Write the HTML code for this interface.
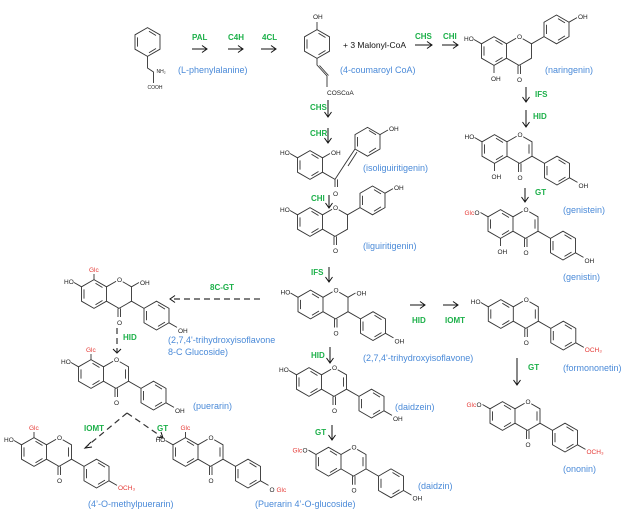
<!DOCTYPE html>
<html><head><meta charset="utf-8"><style>
html,body{margin:0;padding:0;background:#fff}
svg{display:block}
.b{fill:none;stroke:#333;stroke-width:0.9}
.t{font-family:"Liberation Sans",sans-serif;font-size:6.5px;fill:#222}
.o{font-family:"Liberation Sans",sans-serif;font-size:6.5px;fill:#222;paint-order:stroke;stroke:#fff;stroke-width:3px}
.r{font-family:"Liberation Sans",sans-serif;font-size:6.5px;fill:#e53935}
.e{font-family:"Liberation Sans",sans-serif;font-size:8px;font-weight:bold;fill:#1db04a}
.n{font-family:"Liberation Sans",sans-serif;font-size:9px;fill:#4a8ad8}
.k{font-family:"Liberation Sans",sans-serif;font-size:8.5px;fill:#111}
.a{fill:none;stroke:#111;stroke-width:1}
.d{fill:none;stroke:#333;stroke-width:1.2;stroke-dasharray:6,4}
</style></head><body>
<svg width="632" height="514" viewBox="0 0 632 514" xmlns="http://www.w3.org/2000/svg">
<defs>
<g id="A" class="b">
<polygon points="0,-14.4 12.5,-7.2 12.5,7.2 0,14.4 -12.5,7.2 -12.5,-7.2"/>
<path d="M-10,-4.6V4.6M1.5,-10.8L8.5,-6.5M8.5,6.5L1.5,10.8"/>
</g>
<g id="C" class="b">
<path d="M12.5,-7.2L25,-14.4L37.5,-7.2L37.5,7.2L25,14.4L12.5,7.2M24,14.4V23M26.5,14.4V23"/>
</g>
<g id="Cd" class="b"><path d="M34.5,-4.6V4.6"/></g>
<g id="Bi" class="b">
<path d="M37.5,7.2L50,14.4"/>
<polygon points="62.5,7.2 75,14.4 75,28.8 62.5,36 50,28.8 50,14.4"/>
<path d="M52.5,17V26.2M64,10.8L71,15.1M71,28.1L64,32.4M75,28.8L83,33.4"/>
</g>
<g id="Bf" class="b">
<path d="M37.5,-7.2L50,-14.4"/>
<polygon points="62.5,-36 75,-28.8 75,-14.4 62.5,-7.2 50,-14.4 50,-28.8"/>
<path d="M52.5,-26.2V-17M64,-32.4L71,-28.1M71,-15.1L64,-10.8M75,-28.8L83,-33.4"/>
</g>
<g id="H7" class="b"><path d="M-12.5,-7.2L-20,-11.5"/></g>
<g id="O5" class="b"><path d="M0,14.4V22"/></g>
<g id="G8" class="b"><path d="M0,-14.4V-20"/></g>
<g id="O2" class="b"><path d="M37.5,-7.2L45,-11.5"/></g>
</defs>

<!-- phenylalanine -->
<g transform="translate(147.5,42)">
<use href="#A"/>
<path class="b" d="M0,14.4V26L6,30L6,41"/>
<text class="t" x="9" y="31" style="font-size:5px">NH₂</text>
<text class="t" x="0" y="47" style="font-size:5px">COOH</text>
</g>
<!-- coumaroyl CoA -->
<g transform="translate(317,44)">
<use href="#A"/>
<path class="b" d="M0,-14.4V-22M0,14.4V21L10,32L10,43M2.5,21.5L11.5,31.5"/>
<text class="t" x="-4" y="-25">OH</text>
<text class="t" x="10" y="51">COSCoA</text>
</g>
<!-- isoliquiritigenin -->
<g transform="translate(310,165)">
<use href="#A"/><use href="#H7"/>
<path class="b" d="M12.5,-7.2L20,-11.5M12.5,7.2L25,14.4V22M27.5,14.4V22M25,14.4L35,-1L45,-16M38,1L47,-13"/>
<polygon class="b" points="57.5,-37.6 70,-30.4 70,-16 57.5,-8.8 45,-16 45,-30.4"/>
<path class="b" d="M47.5,-28V-18.5M59,-34.5L66,-30.3M66,-17L59,-12.5M70,-30.4L78,-35"/>
<text class="t" x="-30" y="-10">HO</text><text class="t" x="21" y="-10">OH</text>
<text class="o" x="23" y="31">O</text><text class="t" x="79" y="-34">OH</text>
</g>
<!-- liquiritigenin -->
<g transform="translate(310,222)">
<use href="#A"/><use href="#C"/><use href="#Bf"/><use href="#H7"/>
<text class="o" x="23" y="-12">O</text><text class="o" x="23" y="31">O</text>
<text class="t" x="-30" y="-10">HO</text><text class="t" x="84" y="-32">OH</text>
</g>
<!-- naringenin -->
<g transform="translate(494,51)">
<use href="#A"/><use href="#C"/><use href="#Bf"/><use href="#H7"/><use href="#O5"/>
<text class="o" x="23" y="-12">O</text><text class="o" x="23" y="31">O</text>
<text class="t" x="-30" y="-10">HO</text><text class="t" x="84" y="-32">OH</text><text class="t" x="-3" y="30">OH</text>
</g>
<!-- trihydroxyisoflavanone -->
<g transform="translate(310.5,304.5)">
<use href="#A"/><use href="#C"/><use href="#Bi"/><use href="#H7"/><use href="#O2"/>
<text class="o" x="23" y="-12">O</text><text class="o" x="23" y="31">O</text>
<text class="t" x="-30" y="-10">HO</text><text class="t" x="46" y="-9">OH</text><text class="t" x="84" y="39">OH</text>
</g>
<!-- daidzein -->
<g transform="translate(309,382)">
<use href="#A"/><use href="#C"/><use href="#Cd"/><use href="#Bi"/><use href="#H7"/>
<text class="o" x="23" y="-12">O</text><text class="o" x="23" y="31">O</text>
<text class="t" x="-30" y="-10">HO</text><text class="t" x="84" y="39">OH</text>
</g>
<!-- daidzin -->
<g transform="translate(328.5,461.7)">
<use href="#A"/><use href="#C"/><use href="#Cd"/><use href="#Bi"/><use href="#H7"/>
<text class="o" x="23" y="-12">O</text><text class="o" x="23" y="31">O</text>
<text class="r" x="-36" y="-9">Glc</text><text class="t" x="-26" y="-9">O</text><text class="t" x="84" y="39">OH</text>
</g>
<!-- genistein -->
<g transform="translate(494.5,149)">
<use href="#A"/><use href="#C"/><use href="#Cd"/><use href="#Bi"/><use href="#H7"/><use href="#O5"/>
<text class="o" x="23" y="-12">O</text><text class="o" x="23" y="31">O</text>
<text class="t" x="-30" y="-10">HO</text><text class="t" x="84" y="39">OH</text><text class="t" x="-3" y="30">OH</text>
</g>
<!-- genistin -->
<g transform="translate(500.5,224)">
<use href="#A"/><use href="#C"/><use href="#Cd"/><use href="#Bi"/><use href="#H7"/><use href="#O5"/>
<text class="o" x="23" y="-12">O</text><text class="o" x="23" y="31">O</text>
<text class="r" x="-36" y="-9">Glc</text><text class="t" x="-26" y="-9">O</text><text class="t" x="84" y="39">OH</text><text class="t" x="-3" y="30">OH</text>
</g>
<!-- formononetin -->
<g transform="translate(500.8,314)">
<use href="#A"/><use href="#C"/><use href="#Cd"/><use href="#Bi"/><use href="#H7"/>
<text class="o" x="23" y="-12">O</text><text class="o" x="23" y="31">O</text>
<text class="t" x="-30" y="-10">HO</text><text class="r" x="84" y="38">OCH₃</text>
</g>
<!-- ononin -->
<g transform="translate(502.5,416)">
<use href="#A"/><use href="#C"/><use href="#Cd"/><use href="#Bi"/><use href="#H7"/>
<text class="o" x="23" y="-12">O</text><text class="o" x="23" y="31">O</text>
<text class="r" x="-36" y="-9">Glc</text><text class="t" x="-26" y="-9">O</text><text class="r" x="84" y="38">OCH₃</text>
</g>
<!-- 8C glucoside isoflavanone -->
<g transform="translate(94,294)">
<use href="#A"/><use href="#C"/><use href="#Bi"/><use href="#H7"/><use href="#O2"/><use href="#G8"/>
<text class="o" x="23" y="-12">O</text><text class="o" x="23" y="31">O</text>
<text class="t" x="-30" y="-10">HO</text><text class="t" x="46" y="-9">OH</text><text class="t" x="84" y="39">OH</text>
<text class="r" x="-5" y="-22">Glc</text>
</g>
<!-- puerarin -->
<g transform="translate(91,374)">
<use href="#A"/><use href="#C"/><use href="#Cd"/><use href="#Bi"/><use href="#H7"/><use href="#G8"/>
<text class="o" x="23" y="-12">O</text><text class="o" x="23" y="31">O</text>
<text class="t" x="-30" y="-10">HO</text><text class="t" x="84" y="39">OH</text><text class="r" x="-5" y="-22">Glc</text>
</g>
<!-- 4'-O-methylpuerarin -->
<g transform="translate(34,452)">
<use href="#A"/><use href="#C"/><use href="#Cd"/><use href="#Bi"/><use href="#H7"/><use href="#G8"/>
<text class="o" x="23" y="-12">O</text><text class="o" x="23" y="31">O</text>
<text class="t" x="-30" y="-10">HO</text><text class="r" x="84" y="38">OCH₃</text><text class="r" x="-5" y="-22">Glc</text>
</g>
<!-- puerarin 4'-O-glucoside -->
<g transform="translate(185.5,452)">
<use href="#A"/><use href="#C"/><use href="#Cd"/><use href="#Bi"/><use href="#H7"/><use href="#G8"/>
<text class="o" x="23" y="-12">O</text><text class="o" x="23" y="31">O</text>
<text class="t" x="-30" y="-10">HO</text><text class="t" x="84" y="40">O</text><text class="r" x="91" y="40">Glc</text><text class="r" x="-5" y="-22">Glc</text>
</g>

<!-- arrows -->
<g class="a">
<path d="M192,49H207M202,45.5L207,49L202,52.5"/>
<path d="M228,49H243M238,45.5L243,49L238,52.5"/>
<path d="M261,49H276M271,45.5L276,49L271,52.5"/>
<path d="M415,45H432M427,41.5L432,45L427,48.5"/>
<path d="M442,45H458M453,41.5L458,45L453,48.5"/>
<path d="M526,87V102M522.5,97L526,102L529.5,97"/>
<path d="M526,110V127M522.5,122L526,127L529.5,122"/>
<path d="M328,100V117M324.5,112L328,117L331.5,112"/>
<path d="M328,128V143M324.5,138L328,143L331.5,138"/>
<path d="M329,195V208M325.5,203L329,208L332.5,203"/>
<path d="M329,267V282M325.5,277L329,282L332.5,277"/>
<path d="M330,347V363M326.5,358L330,363L333.5,358"/>
<path d="M525,188V202M521.5,197L525,202L528.5,197"/>
<path d="M410,305H425M420,301.5L425,305L420,308.5"/>
<path d="M443,305H458M453,301.5L458,305L453,308.5"/>
<path d="M517,358V385M513.5,380L517,385L520.5,380"/>
<path d="M332,425V440M328.5,435L332,440L335.5,435"/>
<path d="M175,295.5L170,299L175,302.5M113,349L117,353L121,349M91,442L85,448L92,447M157,437L163,438L161,432"/>
</g>
<path class="d" d="M260,299H171"/>
<path class="d" d="M117,328V352"/>
<path class="d" d="M127,413L86,447M127,413L162,437"/>

<!-- enzyme labels -->
<text class="e" x="192" y="40">PAL</text>
<text class="e" x="228" y="40">C4H</text>
<text class="e" x="262" y="40">4CL</text>
<text class="e" x="415" y="39">CHS</text>
<text class="e" x="443" y="39">CHI</text>
<text class="e" x="535" y="97">IFS</text>
<text class="e" x="533" y="119">HID</text>
<text class="e" x="310" y="110">CHS</text>
<text class="e" x="310" y="136">CHR</text>
<text class="e" x="311" y="201">CHI</text>
<text class="e" x="311" y="275">IFS</text>
<text class="e" x="311" y="358">HID</text>
<text class="e" x="535" y="195">GT</text>
<text class="e" x="210" y="290">8C-GT</text>
<text class="e" x="412" y="323">HID</text>
<text class="e" x="445" y="323">IOMT</text>
<text class="e" x="528" y="370">GT</text>
<text class="e" x="315" y="435">GT</text>
<text class="e" x="123" y="340">HID</text>
<text class="e" x="84" y="431">IOMT</text>
<text class="e" x="157" y="431">GT</text>

<!-- names -->
<text class="k" x="343" y="48">+ 3 Malonyl-CoA</text>
<text class="n" x="178" y="73">(L-phenylalanine)</text>
<text class="n" x="340" y="73">(4-coumaroyl CoA)</text>
<text class="n" x="545" y="73">(naringenin)</text>
<text class="n" x="363" y="171">(isoliguiritigenin)</text>
<text class="n" x="563" y="213">(genistein)</text>
<text class="n" x="363" y="249">(liguiritigenin)</text>
<text class="n" x="563" y="280">(genistin)</text>
<text class="n" x="168" y="343">(2,7,4'-trihydroxyisoflavone</text>
<text class="n" x="168" y="355">8-C Glucoside)</text>
<text class="n" x="363" y="361">(2,7,4'-trihydroxyisoflavone)</text>
<text class="n" x="563" y="371">(formononetin)</text>
<text class="n" x="193" y="409">(puerarin)</text>
<text class="n" x="395" y="410">(daidzein)</text>
<text class="n" x="563" y="472">(ononin)</text>
<text class="n" x="418" y="489">(daidzin)</text>
<text class="n" x="88" y="507">(4’-O-methylpuerarin)</text>
<text class="n" x="255" y="507">(Puerarin 4’-O-glucoside)</text>
</svg>
</body></html>
